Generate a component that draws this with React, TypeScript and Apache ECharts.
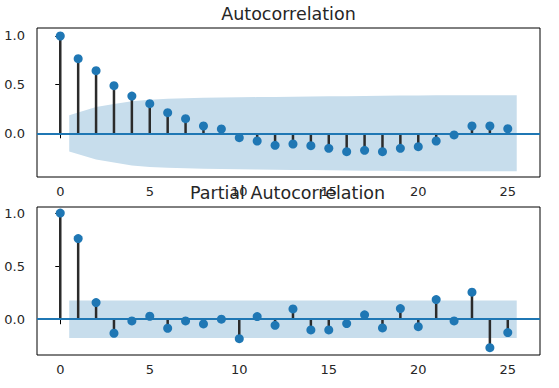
import React, { useEffect, useRef } from "react";
import * as echarts from "echarts";

const lags = [0, 1, 2, 3, 4, 5, 6, 7, 8, 9, 10, 11, 12, 13, 14, 15, 16, 17, 18, 19, 20, 21, 22, 23, 24, 25];
const acfValues = [1.0, 0.767, 0.643, 0.489, 0.383, 0.304, 0.212, 0.15, 0.075, 0.044, -0.045, -0.079, -0.123, -0.11, -0.127, -0.154, -0.189, -0.175, -0.189, -0.154, -0.137, -0.079, -0.017, 0.075, 0.075, 0.047];
const pacfValues = [1.0, 0.76, 0.157, -0.132, -0.016, 0.028, -0.085, -0.016, -0.044, 0.0, -0.183, 0.025, -0.057, 0.097, -0.101, -0.101, -0.041, 0.041, -0.082, 0.1, -0.07, 0.185, -0.016, 0.255, -0.268, -0.126];
const acfBandLags = [0.5, 2, 3, 4, 5, 6, 7, 8, 9, 10, 11, 12, 13, 14, 15, 16, 17, 18, 19, 20, 21, 22, 23, 24, 25.5];
const acfBand = [0.186, 0.27, 0.3, 0.33, 0.345, 0.355, 0.36, 0.365, 0.368, 0.37, 0.372, 0.374, 0.376, 0.378, 0.38, 0.382, 0.384, 0.386, 0.388, 0.389, 0.39, 0.39, 0.39, 0.391, 0.391];
const pacfBandLags = [0.5, 25.5];
const pacfBand = [0.176, 0.176];
const xTicks = [0, 5, 10, 15, 20, 25];
const yTicks = [0, 0.5, 1.0];
const titles = ["Autocorrelation", "Partial Autocorrelation"];

const FONT = "DejaVu Sans";
const BLUE = "#1f77b4";
const TXT = "#262626";

export default function App() {
  const ref = useRef<HTMLDivElement>(null);
  useEffect(() => {
    if (!ref.current) return;
    const chart = echarts.init(ref.current, null, { renderer: "svg" });

    const xAxis = (gi: number) => ({
      type: "value",
      gridIndex: gi,
      min: -1.3,
      max: 26.8,
      splitLine: { show: false },
      axisLine: { show: false },
      axisTick: { show: true, inside: false, length: 5, customValues: xTicks, lineStyle: { color: "#000", width: 1 } },
      axisLabel: { customValues: xTicks, margin: 8, color: TXT, fontFamily: FONT, fontSize: 13, formatter: (v: number) => String(v) },
    });
    const yAxis = (gi: number, min: number, max: number) => ({
      type: "value",
      gridIndex: gi,
      min,
      max,
      splitLine: { show: false },
      axisLine: { show: false },
      axisTick: { show: true, inside: false, length: 5, customValues: yTicks, lineStyle: { color: "#000", width: 1 } },
      axisLabel: { customValues: yTicks, margin: 12, color: TXT, fontFamily: FONT, fontSize: 13, formatter: (v: number) => v.toFixed(1) },
    });

    const bandSeries = (gi: number, bx: number[], bv: number[]) => ({
      type: "custom",
      xAxisIndex: gi,
      yAxisIndex: gi,
      z: 1,
      silent: true,
      data: bx.map((x, i) => [x, bv[i]]),
      renderItem: (params: any, api: any) => {
        if (params.dataIndex !== 0) return null;
        const upper = bx.map((x, i) => api.coord([x, bv[i]]));
        const lower = bx.map((x, i) => api.coord([x, -bv[i]])).reverse();
        return { type: "polygon", shape: { points: upper.concat(lower) }, style: { fill: "#c7ddec" } };
      },
    });
    const stemSeries = (gi: number, vals: number[]) => ({
      type: "custom",
      xAxisIndex: gi,
      yAxisIndex: gi,
      z: 3,
      silent: true,
      data: lags.map((l, i) => [l, vals[i]]),
      renderItem: (params: any, api: any) => {
        const p0 = api.coord([api.value(0), 0]);
        const p1 = api.coord([api.value(0), api.value(1)]);
        return { type: "line", shape: { x1: p0[0], y1: p0[1], x2: p1[0], y2: p1[1] }, style: { stroke: "#2b2b2b", lineWidth: 2.5 } };
      },
    });
    const markerSeries = (gi: number, vals: number[]) => ({
      type: "scatter",
      xAxisIndex: gi,
      yAxisIndex: gi,
      z: 5,
      symbol: "circle",
      symbolSize: 9,
      itemStyle: { color: BLUE, opacity: 1 },
      data: lags.map((l, i) => [l, vals[i]]),
      markLine: {
        silent: true,
        symbol: "none",
        label: { show: false },
        lineStyle: { color: BLUE, width: 2, type: "solid" },
        data: [{ yAxis: 0 }],
        z: 4,
      },
    });

    chart.setOption({
      animation: false,
      grid: [
        { left: 37, top: 28, width: 503, height: 149, show: true, borderColor: "#000", borderWidth: 1, backgroundColor: "transparent" },
        { left: 37, top: 207, width: 503, height: 148, show: true, borderColor: "#000", borderWidth: 1, backgroundColor: "transparent" },
      ],
      xAxis: [xAxis(0), xAxis(1)],
      yAxis: [yAxis(0, -0.449, 1.082), yAxis(1, -0.337, 1.057)],
      graphic: [
        { type: "text", x: 288.5, y: 14, z: 10, style: { text: titles[0], textAlign: "center", textVerticalAlign: "middle", fontFamily: FONT, fontSize: 17.5, fill: TXT } },
        { type: "text", x: 287.5, y: 193, z: 10, style: { text: titles[1], textAlign: "center", textVerticalAlign: "middle", fontFamily: FONT, fontSize: 17.5, fill: TXT } },
      ],
      series: [
        bandSeries(0, acfBandLags, acfBand),
        stemSeries(0, acfValues),
        markerSeries(0, acfValues),
        bandSeries(1, pacfBandLags, pacfBand),
        stemSeries(1, pacfValues),
        markerSeries(1, pacfValues),
      ],
    });
    return () => chart.dispose();
  }, []);
  return <div ref={ref} style={{ position: "fixed", left: 0, top: 0, width: 559, height: 388, background: "#fff" }} />;
}
